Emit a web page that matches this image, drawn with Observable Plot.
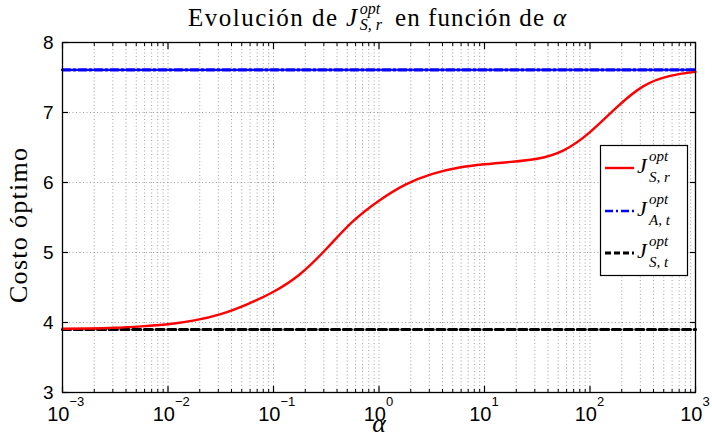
<!DOCTYPE html>
<html>
<head>
<meta charset="utf-8">
<script src="https://cdn.jsdelivr.net/npm/d3@7"></script>
<script src="https://cdn.jsdelivr.net/npm/@observablehq/plot@0.6"></script>
<style>
  html, body { margin: 0; padding: 0; background: #fff; }
  #chart svg { display: block; }
</style>
</head>
<body>
<div id="chart"></div>
<script>
// ---- data ----
const alpha  = [0.001, 0.00178, 0.00316, 0.00562, 0.01, 0.0178, 0.0316, 0.0562, 0.1, 0.178, 0.316, 0.562, 1, 1.78, 3.16, 5.62, 10, 17.8, 31.6, 56.2, 100, 178, 316, 562, 1000];
const costSr = [3.91, 3.915, 3.925, 3.945, 3.975, 4.03, 4.12, 4.26, 4.44, 4.69, 5.05, 5.44, 5.74, 5.97, 6.12, 6.21, 6.26, 6.295, 6.34, 6.46, 6.72, 7.07, 7.37, 7.52, 7.58];
const flatAlpha = [0.001, 1000];
const costAt = [7.61, 7.61];
const costSt = [3.90, 3.90];

const xTicks = [1e-3, 1e-2, 1e-1, 1e0, 1e1, 1e2, 1e3];
const xExponents = ["\u22123", "\u22122", "\u22121", "0", "1", "2", "3"];
const yTicks = [3, 4, 5, 6, 7, 8];

const titleText = "Evolución de";
const titleText2 = "en función de";
const yLabel = "Costo óptimo";
const xLabel = "α";
const legendSubs = ["S, r", "A, t", "S, t"];

// ---- derived tables ----
const srData = alpha.map((a, i) => ({a, j: costSr[i]}));
const atData = flatAlpha.map((a, i) => ({a, j: costAt[i]}));
const stData = flatAlpha.map((a, i) => ({a, j: costSt[i]}));
const minorTicks = xTicks.slice(0, -1).flatMap(t => [2,3,4,5,6,7,8,9].map(m => m * t));
const xLabelData = xTicks.map((t, i) => ({t, e: xExponents[i]}));

const SANS = "'Liberation Sans', Arial, Helvetica, sans-serif";
const SERIF = "'Liberation Serif', 'Times New Roman', serif";

const gridStyle = {stroke: "#8a8a8a", strokeWidth: 0.8, strokeDasharray: "1,2.5"};
const DASHDOT = "8,3,2,3";

const chart = Plot.plot({
  width: 712,
  height: 433,
  marginLeft: 62,
  marginRight: 17,
  marginTop: 42,
  marginBottom: 41,
  x: {type: "log", domain: [1e-3, 1e3]},
  y: {domain: [3, 8]},
  style: {background: "#fff", fontFamily: SANS, overflow: "visible"},
  marks: [
    // dotted grid
    Plot.ruleX(minorTicks, {x: d => d, ...gridStyle}),
    Plot.ruleX(xTicks.slice(1, -1), {x: d => d, ...gridStyle}),
    Plot.ruleY(yTicks.slice(1, -1), {y: d => d, ...gridStyle}),
    // series
    Plot.line(stData, {x: "a", y: "j", stroke: "#000", strokeWidth: 3.2, strokeDasharray: "8,3.7"}),
    Plot.line(atData, {x: "a", y: "j", stroke: "#0000ff", strokeWidth: 3.2, strokeDasharray: DASHDOT}),
    Plot.line(srData, {x: "a", y: "j", stroke: "#ff0000", strokeWidth: 2.4, curve: "natural"}),
    // frame and inward ticks
    Plot.frame({stroke: "#000", strokeWidth: 1.3}),
    Plot.axisX({anchor: "bottom", ticks: minorTicks, tickSize: -3, tickFormat: () => "", label: null, strokeWidth: 1}),
    Plot.axisX({anchor: "top", ticks: minorTicks, tickSize: -3, tickFormat: () => "", label: null, strokeWidth: 1}),
    Plot.axisX({anchor: "bottom", ticks: xTicks, tickSize: -6, tickFormat: () => "", label: null, strokeWidth: 1.2}),
    Plot.axisX({anchor: "top", ticks: xTicks, tickSize: -6, tickFormat: () => "", label: null, strokeWidth: 1.2}),
    Plot.axisY({anchor: "left", ticks: yTicks, tickSize: -6, tickFormat: () => "", label: null, strokeWidth: 1.2}),
    Plot.axisY({anchor: "right", ticks: yTicks, tickSize: -6, tickFormat: () => "", label: null, strokeWidth: 1.2}),
    // tick labels
    Plot.text(yTicks, {y: d => d, text: d => String(d), frameAnchor: "left", dx: -9, textAnchor: "end", lineAnchor: "middle", fontSize: 19, fill: "#000"}),
    Plot.text(xLabelData, {x: "t", text: () => "10", frameAnchor: "bottom", dx: 7, dy: 28, textAnchor: "end", lineAnchor: "bottom", fontSize: 20, fill: "#000"}),
    Plot.text(xLabelData, {x: "t", text: "e", frameAnchor: "bottom", dx: 7, dy: 13, textAnchor: "start", lineAnchor: "bottom", fontSize: 13, fill: "#000"}),
    // x axis title
    Plot.text([xLabel], {text: d => d, frameAnchor: "bottom", dy: 39, textAnchor: "middle", lineAnchor: "bottom", fontSize: 26, fontFamily: SERIF, fontStyle: "italic", fill: "#000"})
  ]
});

document.getElementById("chart").appendChild(chart);

const svg = d3.select(chart);

// y axis title
svg.append("text")
  .attr("transform", "translate(27,225.5) rotate(-90)")
  .attr("text-anchor", "middle")
  .attr("font-family", SERIF).attr("font-size", 26).attr("fill", "#000")
  .attr("textLength", 155).attr("lengthAdjust", "spacing")
  .text(yLabel);

// math-style J with super/subscript
function mathJ(g, x, y, size, small, supDy, subDy, sup, sub) {
  const t = g.append("text").attr("font-family", SERIF).attr("fill", "#000")
    .attr("font-style", "italic").attr("text-anchor", "start");
  t.append("tspan").attr("x", x).attr("y", y).attr("font-size", size).text("J");
  t.append("tspan").attr("x", x + size * 0.55).attr("y", y + supDy).attr("font-size", small).text(sup);
  t.append("tspan").attr("x", x + size * 0.55).attr("y", y + subDy).attr("font-size", small).text(sub);
  return t;
}

// title
const tg = svg.append("g").attr("text-anchor", "start");
tg.append("text").attr("x", 188).attr("y", 26).attr("font-family", SERIF).attr("font-size", 25)
  .attr("fill", "#000").attr("textLength", 149).attr("lengthAdjust", "spacing").text(titleText);
mathJ(tg, 346, 26, 25, 16, -12, 4, "opt", legendSubs[0]);
tg.append("text").attr("x", 395).attr("y", 26).attr("font-family", SERIF).attr("font-size", 25)
  .attr("fill", "#000").attr("textLength", 149).attr("lengthAdjust", "spacing").text(titleText2);
tg.append("text").attr("x", 553).attr("y", 26).attr("font-family", SERIF).attr("font-size", 25)
  .attr("font-style", "italic").attr("fill", "#000").text(xLabel);

// legend
const lg = svg.append("g").attr("text-anchor", "start");
lg.append("rect").attr("x", 600.5).attr("y", 145.5).attr("width", 87).attr("height", 130)
  .attr("fill", "#fff").attr("stroke", "#000").attr("stroke-width", 1.2);
const legendItems = [
  {y: 168, stroke: "#ff0000", dash: null, w: 2.4, sub: legendSubs[0]},
  {y: 211, stroke: "#0000ff", dash: DASHDOT, w: 2.6, sub: legendSubs[1]},
  {y: 253, stroke: "#000", dash: "6,3", w: 2.8, sub: legendSubs[2]}
];
for (const it of legendItems) {
  const l = lg.append("line").attr("x1", 605).attr("x2", 634).attr("y1", it.y).attr("y2", it.y)
    .attr("stroke", it.stroke).attr("stroke-width", it.w);
  if (it.dash) l.attr("stroke-dasharray", it.dash);
  mathJ(lg, 637, it.y + 5, 22, 15, -12, 9, "opt", it.sub);
}
</script>
</body>
</html>
